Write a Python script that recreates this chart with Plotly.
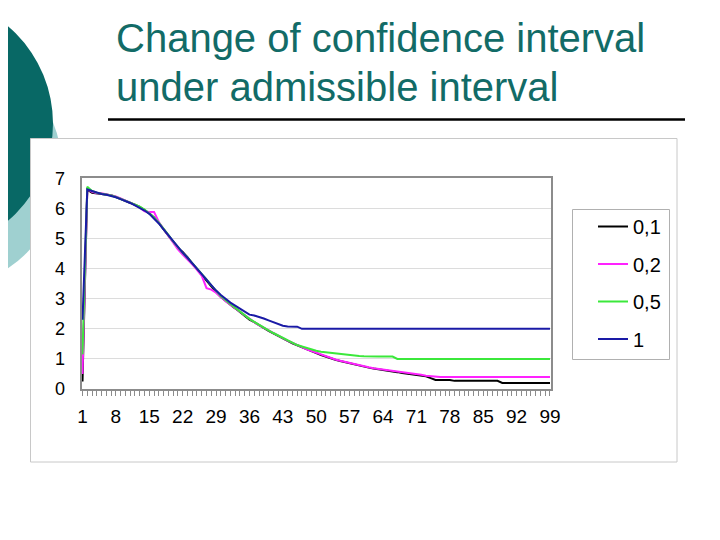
import plotly.graph_objects as go

# ---- data ----
x_index = list(range(1, 100))
tick_labels = [1, 8, 15, 22, 29, 36, 43, 50, 57, 64, 71, 78, 85, 92, 99]
series_names = ["0,1", "0,2", "0,5", "1"]

s_01 = [0.25, 6.62, 6.52, 6.50, 6.48, 6.47, 6.44, 6.38, 6.32, 6.26,
        6.19, 6.12, 6.05, 5.95, 5.84, 5.70, 5.52, 5.30, 5.10, 4.88,
        4.68, 4.55, 4.38, 4.17, 3.98, 3.78, 3.58, 3.40, 3.22, 3.06,
        2.92, 2.80, 2.68, 2.55, 2.40, 2.30, 2.22, 2.12, 2.02, 1.93,
        1.85, 1.76, 1.68, 1.60, 1.52, 1.45, 1.38, 1.31, 1.25, 1.19,
        1.13, 1.07, 1.02, 0.97, 0.93, 0.89, 0.86, 0.82, 0.78, 0.74,
        0.71, 0.68, 0.66, 0.63, 0.60, 0.58, 0.56, 0.53, 0.51, 0.49,
        0.47, 0.45, 0.42, 0.36, 0.30, 0.30, 0.30, 0.30, 0.27, 0.27,
        0.27, 0.27, 0.27, 0.27, 0.27, 0.27, 0.27, 0.27, 0.20, 0.20,
        0.20, 0.20, 0.20, 0.20, 0.20, 0.20, 0.20, 0.20, 0.20]

s_02 = [0.50, 6.64, 6.55, 6.50, 6.50, 6.46, 6.43, 6.40, 6.33, 6.26,
        6.20, 6.12, 6.03, 5.90, 5.88, 5.88, 5.55, 5.32, 5.10, 4.86,
        4.64, 4.47, 4.32, 4.14, 3.96, 3.76, 3.35, 3.30, 3.20, 3.05,
        2.92, 2.80, 2.68, 2.56, 2.44, 2.34, 2.22, 2.12, 2.03, 1.94,
        1.85, 1.77, 1.69, 1.61, 1.53, 1.46, 1.39, 1.32, 1.26, 1.20,
        1.14, 1.08, 1.03, 0.98, 0.94, 0.90, 0.87, 0.83, 0.79, 0.75,
        0.72, 0.69, 0.67, 0.64, 0.62, 0.60, 0.58, 0.55, 0.53, 0.51,
        0.49, 0.47, 0.44, 0.42, 0.40, 0.40, 0.40, 0.40, 0.40, 0.40,
        0.40, 0.40, 0.40, 0.40, 0.40, 0.40, 0.40, 0.40, 0.40, 0.40,
        0.40, 0.40, 0.40, 0.40, 0.40, 0.40, 0.40, 0.40, 0.40]

s_05 = [1.15, 6.72, 6.58, 6.52, 6.49, 6.47, 6.43, 6.38, 6.32, 6.26,
        6.20, 6.12, 6.06, 5.96, 5.84, 5.70, 5.53, 5.34, 5.12, 4.90,
        4.70, 4.52, 4.36, 4.18, 4.00, 3.84, 3.64, 3.44, 3.26, 3.09,
        2.95, 2.82, 2.70, 2.57, 2.44, 2.33, 2.23, 2.13, 2.04, 1.95,
        1.86, 1.78, 1.70, 1.62, 1.54, 1.46, 1.41, 1.36, 1.31, 1.27,
        1.24, 1.22, 1.20, 1.18, 1.16, 1.15, 1.14, 1.12, 1.10, 1.09,
        1.08, 1.08, 1.08, 1.08, 1.08, 1.08, 1.00, 1.00, 1.00, 1.00,
        1.00, 1.00, 1.00, 1.00, 1.00, 1.00, 1.00, 1.00, 1.00, 1.00,
        1.00, 1.00, 1.00, 1.00, 1.00, 1.00, 1.00, 1.00, 1.00, 1.00,
        1.00, 1.00, 1.00, 1.00, 1.00, 1.00, 1.00, 1.00, 1.00]

s_1 = [2.30, 6.63, 6.58, 6.52, 6.48, 6.45, 6.42, 6.37, 6.31, 6.25,
       6.18, 6.10, 6.02, 5.93, 5.82, 5.67, 5.50, 5.30, 5.10, 4.90,
       4.71, 4.53, 4.36, 4.18, 4.00, 3.80, 3.62, 3.44, 3.27, 3.12,
       2.99, 2.87, 2.77, 2.66, 2.56, 2.47, 2.44, 2.40, 2.34, 2.28,
       2.22, 2.16, 2.10, 2.08, 2.08, 2.07, 2.00, 2.00, 2.00, 2.00,
       2.00, 2.00, 2.00, 2.00, 2.00, 2.00, 2.00, 2.00, 2.00, 2.00,
       2.00, 2.00, 2.00, 2.00, 2.00, 2.00, 2.00, 2.00, 2.00, 2.00,
       2.00, 2.00, 2.00, 2.00, 2.00, 2.00, 2.00, 2.00, 2.00, 2.00,
       2.00, 2.00, 2.00, 2.00, 2.00, 2.00, 2.00, 2.00, 2.00, 2.00,
       2.00, 2.00, 2.00, 2.00, 2.00, 2.00, 2.00, 2.00, 2.00]

series_values = [s_01, s_02, s_05, s_1]
series_colors = ["#000000", "#ff22ff", "#3be83b", "#1a1aa6"]

W, H = 720, 540
OFF = 8  # page body margin in the browser
FONT = "Liberation Sans, Arial, sans-serif"

fig = go.Figure()
for name, vals, col in zip(series_names, series_values, series_colors):
    fig.add_trace(go.Scatter(
        x=x_index, y=vals, mode="lines", name=name,
        line=dict(color=col, width=2), legendgroup=name,
    ))

def px(xp):
    return (xp - OFF) / W

def py(yp):
    return (H - (yp - OFF)) / H

shapes = [
    # decorative slide circles
    dict(type="circle", xref="paper", yref="paper", layer="below",
         x0=px(-178), x1=px(62), y0=py(288), y1=py(48),
         fillcolor="#9fd0d0", line=dict(width=0)),
    dict(type="circle", xref="paper", yref="paper", layer="below",
         x0=px(-202), x1=px(53), y0=py(251), y1=py(-4),
         fillcolor="#086865", line=dict(width=0)),
    # chart frame
    dict(type="rect", xref="paper", yref="paper", layer="below",
         x0=px(30.5), x1=px(677), y0=py(462), y1=py(138.5),
         fillcolor="#ffffff", line=dict(color="#c8c8c8", width=1)),
    # title underline
    dict(type="line", xref="paper", yref="paper",
         x0=px(108), x1=px(685), y0=py(119.5), y1=py(119.5),
         line=dict(color="#000000", width=2.5)),
    # legend frame
    dict(type="rect", xref="paper", yref="paper",
         x0=px(572.5), x1=px(669.5), y0=py(359.5), y1=py(209.5),
         line=dict(color="#b0b0b0", width=1)),
]

annotations = [
    dict(text="Change of confidence interval", xref="paper", yref="paper",
         x=px(114), y=py(38.5), xanchor="left", yanchor="middle",
         showarrow=False, font=dict(family=FONT, size=40, color="#126b67")),
    dict(text="under admissible interval", xref="paper", yref="paper",
         x=px(114), y=py(86.5), xanchor="left", yanchor="middle",
         showarrow=False, font=dict(family=FONT, size=40, color="#126b67")),
]

fig.update_layout(
    template="none",
    width=W, height=H,
    margin=dict(l=0, r=0, t=0, b=0, pad=0, autoexpand=False),
    paper_bgcolor="#ffffff", plot_bgcolor="rgba(0,0,0,0)",
    font=dict(family=FONT, size=19, color="#000000"),
    shapes=shapes, annotations=annotations,
    showlegend=True,
    legend=dict(x=px(593), y=py(207), xanchor="left", yanchor="top",
                bgcolor="rgba(0,0,0,0)", borderwidth=0,
                font=dict(family=FONT, size=20, color="#000000"),
                tracegroupgap=8.5),
    xaxis=dict(
        automargin=False,
        domain=[px(81.7), px(550.7)],
        range=[0.83, 99.15],
        tickmode="array", tickvals=tick_labels,
        ticktext=[str(t) for t in tick_labels],
        ticks="outside", ticklen=5, tickcolor="#8c8c8c", tickwidth=1,
        minor=dict(ticks="outside", ticklen=5, tickcolor="#8c8c8c",
                   tickwidth=1, dtick=1, tick0=0, showgrid=False),
        showgrid=False, zeroline=False,
        showline=True, linecolor="#8c8c8c", linewidth=2, mirror=True,
        ticklabelstandoff=4,
        tickfont=dict(family=FONT, size=19, color="#000000"),
    ),
    yaxis=dict(
        automargin=False,
        domain=[py(389), py(178.3)],
        range=[0, 7], dtick=1, tick0=0,
        ticks="", showgrid=True, gridcolor="#dcdcdc", gridwidth=1,
        zeroline=False,
        showline=True, linecolor="#8c8c8c", linewidth=2, mirror=True,
        ticklabelstandoff=11,
        tickfont=dict(family=FONT, size=18, color="#000000"),
    ),
)

fig.write_html("out.html")
